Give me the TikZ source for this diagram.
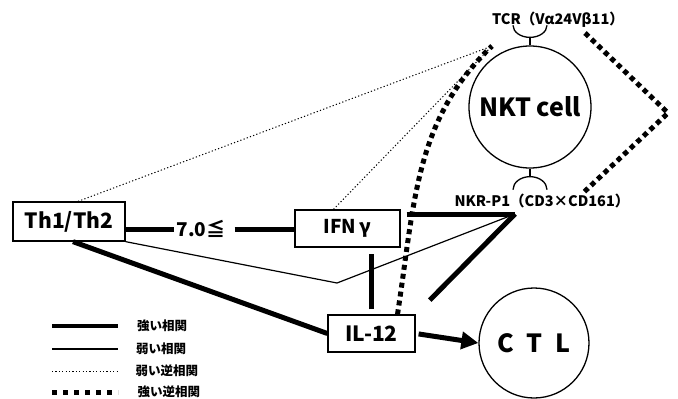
\documentclass[tikz,border=0pt]{standalone}
\usepackage{fontspec}
\setmainfont{Noto Sans CJK JP}
\usetikzlibrary{positioning}
\usetikzlibrary{arrows.meta}

\begin{document}
\begin{tikzpicture}
[x=1pt, y=-1pt,
% The box style is used to draw the factors
box/.style={rectangle, draw, line width=1.3pt, inner sep=0pt, font=\fontsize{21}{24}\selectfont\bfseries},
% The cell style is used to draw the cells
cell/.style={circle, draw, line width=1.3pt, inner sep=0pt, font=\fontsize{25}{27}\selectfont\bfseries},
% The recep style is used to write the receptors' name
recep/.style={inner sep=0pt, font=\fontsize{14.5}{16}\selectfont\bfseries},
% The line styles give the kind of correlation
strong/.style={line width=5pt},
weak/.style={line width=1.2pt},
weakneg/.style={line width=1pt, dash pattern=on 1.2pt off 2.2pt},
strongneg/.style={line width=5pt, dash pattern=on 5pt off 4pt},
legend/.style={inner sep=0pt, anchor=west, font=\fontsize{12.5}{13}\selectfont\bfseries}
]
\useasboundingbox (0,0) rectangle (678,399);
% Draw factors
\node[box, minimum width=112pt, minimum height=39pt] (th) at (69,221.5) {Th1/Th2};
\node[box, minimum width=105pt, minimum height=37pt, font=\fontsize{19}{22}\selectfont\bfseries] (ifn) at (347.5,228.5) {IFN\,γ};
\node[box, minimum width=87pt, minimum height=37pt] (il) at (371.5,333.5) {IL-12};
\node[inner sep=0pt, font=\fontsize{19}{22}\selectfont\bfseries] (ratio) at (201,229) {7.0≦};
% Draw cells
\node[cell, minimum size=122pt] (nkt) at (530,107) {NKT cell};
\node[cell, minimum size=110pt] (ctl) at (534,343) {C\enspace T\enspace L};
% Draw receptors
\draw[line width=1.3pt] (nkt.north) -- ++(0,-8) coordinate (tcrcup);
\draw[line width=1.3pt] (tcrcup) arc[start angle=270, end angle=180, x radius=17pt, y radius=12pt];
\draw[line width=1.3pt] (tcrcup) arc[start angle=270, end angle=360, x radius=17pt, y radius=12pt];
\draw[line width=1.3pt] (nkt.south) -- ++(0,8) coordinate (nkrcup);
\draw[line width=1.3pt] (nkrcup) arc[start angle=90, end angle=180, x radius=17pt, y radius=13pt];
\draw[line width=1.3pt] (nkrcup) arc[start angle=90, end angle=0, x radius=17pt, y radius=13pt];
\node[recep] (tcrlab) at (558,20) {TCR（Vα24Vβ11）};
\node[recep] (nkrlab) at (542,201) {NKR-P1（CD3×CD161）};
\coordinate (tcr) at (492,46);
\coordinate (hub) at (515,214);
\coordinate (bend) at (337,283);
\coordinate (tcrend) at (585,33);
\coordinate (tip) at (668,113);
\coordinate (nkrend) at (583,193);
% Draw correlations
\draw[strong] (th.east |- ratio) -- ([xshift=-2pt]ratio.west);
\draw[strong] ([xshift=9pt]ratio.east) -- (ifn.west |- ratio);
\draw[strong] ([xshift=4pt]th.south) -- (il.west);
\draw[weak] (th.south east) -- (bend) -- (hub);
\draw[strong, shorten <=6pt] (ifn.east |- hub) -- (hub);
\draw[strong, shorten >=20pt] (hub) -- (il.north east);
\draw[strong, shorten <=5pt, shorten >=6pt] (il.north) -- (il.north |- ifn.south);
\draw[weakneg] ([xshift=9pt]th.north) -- (tcr);
\draw[weakneg] ([xshift=-14pt]ifn.north) -- (tcr);
\draw[strongneg] ([xshift=26pt]il.north) .. controls (415,200) and (415,120) .. (tcr);
\draw[strongneg] (tcrend) -- (tip) -- (nkrend);
\draw[strong, shorten <=3pt, -{Triangle[length=17pt, width=17pt]}] (il.east) -- (ctl.west);
% Draw legend
\draw[line width=4pt] (52,326) -- (118,326) node[legend, right=17pt] (leg1) {強い相関};
\draw[line width=2pt] (52,349) -- (118,349) node[legend, right=17pt] (leg2) {弱い相関};
\draw[weakneg] (52,371) -- (118,371) node[legend, right=17pt] (leg3) {弱い逆相関};
\draw[line width=5pt, dash pattern=on 5pt off 6pt] (52,392) -- (118,392) node[legend, right=17pt] (leg4) {強い逆相関};
\end{tikzpicture}
\end{document}
